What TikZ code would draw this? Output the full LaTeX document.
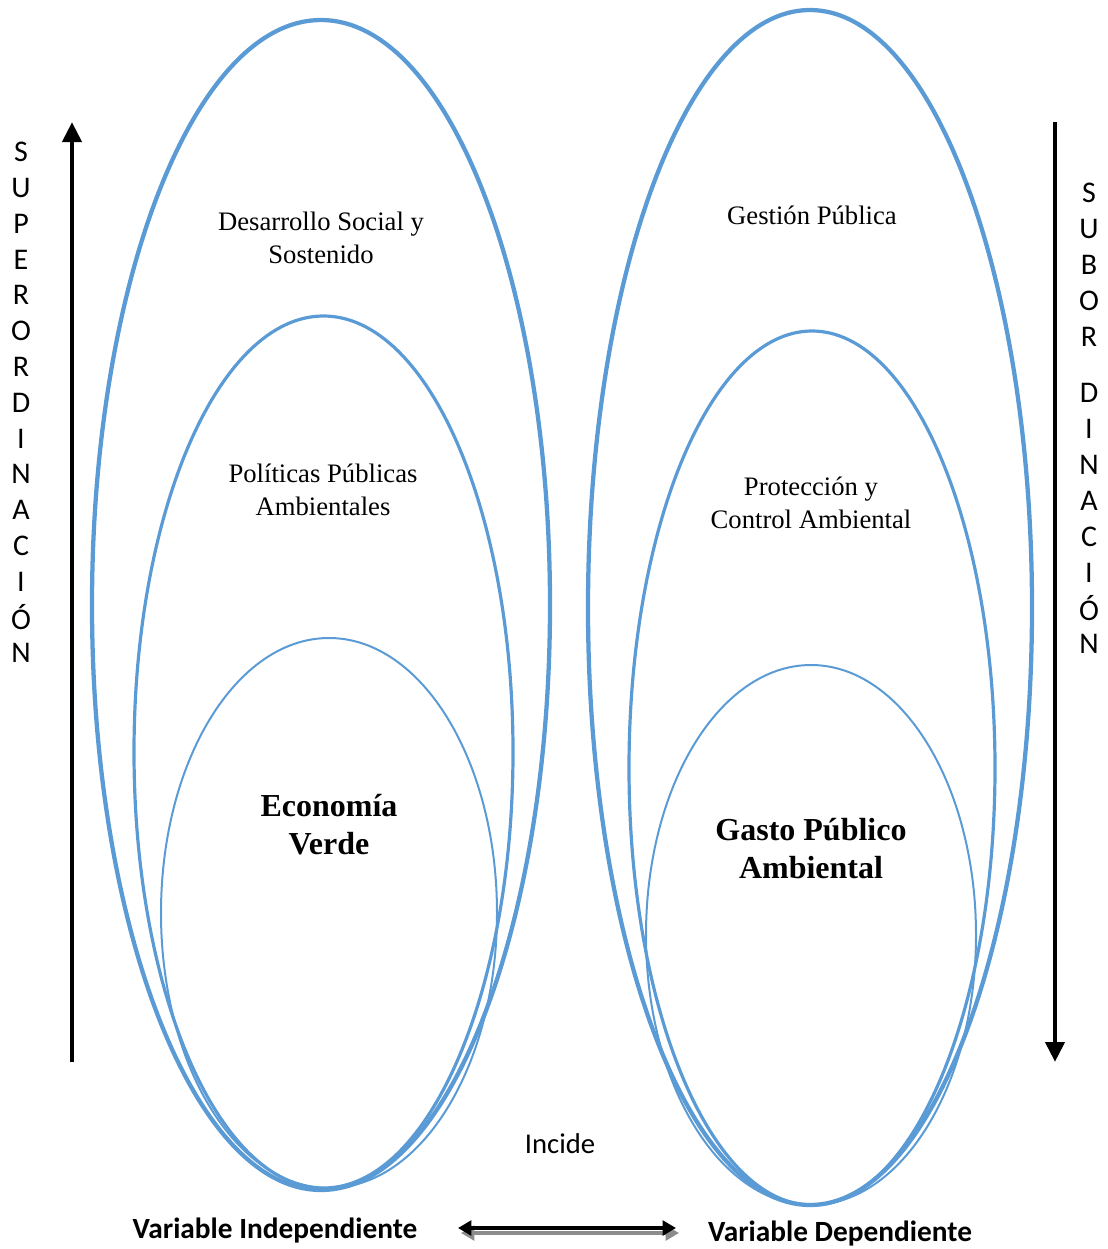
\documentclass[tikz,border=0pt]{standalone}
\usepackage{fontspec}
\setmainfont{Liberation Serif}
\newfontfamily\calibri{Carlito}
\usetikzlibrary{arrows.meta}
\definecolor{oblue}{HTML}{5B9BD5}
\tikzset{
	ring/.style={draw=oblue,line width=#1},
	lbl/.style={align=center,font=\fontsize{20}{25}\selectfont,name=#1},
	blbl/.style={align=center,font=\fontsize{24}{28.5}\selectfont\bfseries,name=#1},
	side/.style={font=\calibri\fontsize{22.5}{24}\selectfont,inner sep=0pt},
	vlbl/.style={font=\calibri\fontsize{22}{24}\selectfont\bfseries,name=#1},
	bigarrow/.style={line width=3.6pt,-{Triangle[length=15pt,width=14pt]}},
	duo/.style={line width=3pt,{Triangle[length=10pt,width=11pt]}-{Triangle[length=10pt,width=11pt]}}
}
\begin{document}
\begin{tikzpicture}[x=0.75pt,y=-0.75pt]
	\useasboundingbox (0,0) rectangle (1107,1249);

	% left set of ellipses
	\draw [ring=3.2pt] (321,605) ellipse [x radius=229,y radius=585];
	\draw [ring=2.4pt] (323.5,752) ellipse [x radius=189.5,y radius=436];
	\draw [ring=1.5pt] (329,913) ellipse [x radius=168,y radius=275];

	% right set of ellipses
	\draw [ring=3.2pt] (810,607.5) ellipse [x radius=222,y radius=597.5];
	\draw [ring=2.4pt] (812,768) ellipse [x radius=183,y radius=437];
	\draw [ring=1.5pt] (811,935) ellipse [x radius=165,y radius=270];

	\node [lbl=desarrollo] at (321,238) {Desarrollo Social y\\Sostenido};
	\node [lbl=politicas] at (323,490) {Políticas Públicas\\Ambientales};
	\node [blbl=economia] at (329,825) {Economía\\Verde};
	\node [lbl=gestion] at (812,215) {Gestión Pública};
	\node [lbl=proteccion] at (811,503) {Protección y\\Control Ambiental};
	\node [blbl=gasto] at (811,849) {Gasto Público\\Ambiental};

	% hierarchy arrows
	\coordinate (supbot) at (72,1062);
	\coordinate (suptop) at (72,122);
	\coordinate (subtop) at (1055,122);
	\coordinate (subbot) at (1055,1062);
	\draw [bigarrow] (supbot) -- (suptop);
	\draw [bigarrow] (subtop) -- (subbot);

	\foreach \l [count=\i from 0] in {S,U,P,E,R,O,R,D,I,N,A,C,I,Ó,N}
		\node [side] (sup\i) at (21,152+35.8*\i) {\l};
	\foreach \l/\y [count=\i] in {S/193,U/229,B/265,O/301,R/337,D/393,I/429,N/465,A/501,C/537,I/573,Ó/608,N/644}
		\node [side] (sub\i) at (1089,\y) {\l};

	% variables
	\node [font=\calibri\fontsize{21.5}{24}\selectfont] (incide) at (560,1144) {Incide};
	\node [vlbl=indep] at (275,1230) {Variable Independiente};
	\node [vlbl=dep] at (840,1233) {Variable Dependiente};
	\coordinate (arrL) at (458,1228);
	\coordinate (arrR) at (676,1228);
	\draw [duo,gray!90] ([shift={(3,5)}]arrL) -- ([shift={(3,5)}]arrR);
	\draw [duo] (arrL) -- (arrR);
\end{tikzpicture}
\end{document}
